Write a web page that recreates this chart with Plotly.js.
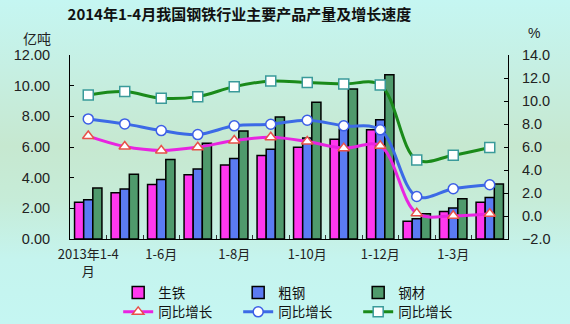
<!DOCTYPE html>
<html>
<head>
<meta charset="utf-8">
<script src="https://cdn.plot.ly/plotly-3.0.1.min.js"></script>
<style>
html,body{margin:0;padding:0;}
body{width:570px;height:324px;background:linear-gradient(to bottom,#c5f6f2 0%,#c6efe2 22%,#c6e8d0 45%,#c6ecd8 62%,#c5f4ee 80%,#c5f6f2 100%);}
#chart{width:570px;height:324px;}
</style>
</head>
<body>
<div id="chart"></div>
<script>
const categories = ["2013年1-4月","1-5月","1-6月","1-7月","1-8月","1-9月","1-10月","1-11月","1-12月","2014年1-2月","1-3月","1-4月"];
const tickLabels = ["2013年1-4<br>月","","1-6月","","1-8月","","1-10月","","1-12月","","1-3月",""];
const pigIron   = [2.39,3.02,3.56,4.19,4.82,5.45,5.99,6.51,7.12,1.15,1.80,2.39];
const crudeSteel= [2.56,3.26,3.88,4.56,5.25,5.86,6.58,7.16,7.77,1.32,2.02,2.71];
const steelProd = [3.32,4.23,5.19,6.25,7.05,7.96,8.92,9.79,10.72,1.65,2.63,3.58];
const pigIronGrowth    = [6.95,6.04,5.70,5.98,6.56,6.85,6.48,5.90,6.10,0.23,0.02,0.20];
const crudeSteelGrowth = [8.44,8.01,7.43,7.08,7.84,7.98,8.33,7.84,7.49,1.70,2.37,2.72];
const steelProdGrowth  = [10.53,10.82,10.24,10.38,11.25,11.74,11.60,11.48,11.40,4.88,5.29,5.96];

const cjk = '"Noto Sans CJK SC", sans-serif';
const barLine = {color:'#000', width:1.5};
const traces = [
  {type:'bar', name:'生铁', x:categories, y:pigIron, marker:{color:'#ff38ee', line:barLine}, legend:'legend'},
  {type:'bar', name:'粗钢', x:categories, y:crudeSteel, marker:{color:'#5b7bf3', line:barLine}, legend:'legend'},
  {type:'bar', name:'钢材', x:categories, y:steelProd, marker:{color:'#4f9a6c', line:barLine}, legend:'legend'},
  {type:'scatter', mode:'lines+markers', name:'同比增长', x:categories, y:pigIronGrowth, yaxis:'y2', legend:'legend2',
   line:{color:'#e824e0', width:3, shape:'spline', smoothing:1},
   marker:{symbol:'triangle-up', size:10, color:'#ffffff', line:{color:'#e8504a', width:1.5}}},
  {type:'scatter', mode:'lines+markers', name:'同比增长', x:categories, y:crudeSteelGrowth, yaxis:'y2', legend:'legend2',
   line:{color:'#3c6ae6', width:3, shape:'spline', smoothing:1},
   marker:{symbol:'circle', size:10, color:'#ffffff', line:{color:'#3c5ee6', width:1.5}}},
  {type:'scatter', mode:'lines+markers', name:'同比增长', x:categories, y:steelProdGrowth, yaxis:'y2', legend:'legend2',
   line:{color:'#1a8a1a', width:3, shape:'spline', smoothing:1},
   marker:{symbol:'square', size:10, color:'#ffffff', line:{color:'#3a9a9a', width:1.5}}}
];

const legendBase = {orientation:'h', xanchor:'left', yanchor:'top', entrywidth:75,
  bgcolor:'rgba(0,0,0,0)', font:{family:cjk, size:13.5, color:'#111'}, tracegroupgap:0, itemwidth:30};

const layout = {
  width:570, height:324,
  paper_bgcolor:'rgba(0,0,0,0)', plot_bgcolor:'rgba(0,0,0,0)',
  margin:{l:70, r:62, t:55, b:85, autoexpand:false},
  barmode:'group', bargap:0.25, bargroupgap:0,
  title:{text:'2014年1-4月我国钢铁行业主要产品产量及增长速度', x:0.42, xanchor:'center', y:0.955, yanchor:'middle',
         font:{family:cjk, size:15, color:'#111', weight:'bold'}},
  xaxis:{type:'category', range:[-0.5, 11.5], autorange:false, tickmode:'array', tickvals:categories, ticktext:tickLabels,
         tickson:'boundaries', ticks:'inside', ticklen:4, tickcolor:'#333',
         showline:true, linecolor:'#000', linewidth:1, showgrid:false, zeroline:false,
         ticklabelstandoff:3,
         tickfont:{family:cjk, size:13, color:'#222'}, tickangle:0},
  yaxis:{range:[0,12], dtick:2, tickformat:'.2f', showline:true, linecolor:'#000', linewidth:1,
         ticks:'inside', ticklen:4, tickcolor:'#000', showgrid:false, zeroline:false,
         ticklabelstandoff:16,
         tickfont:{family:'"Liberation Sans", Arial, sans-serif', size:14.5, color:'#222'}},
  yaxis2:{range:[-2,14], dtick:2, tickformat:'.1f', overlaying:'y', side:'right', showline:true,
         linecolor:'#000', linewidth:1, ticks:'inside', ticklen:4, tickcolor:'#000', showgrid:false, zeroline:false,
         ticklabelstandoff:10,
         tickfont:{family:'"Liberation Sans", Arial, sans-serif', size:14.5, color:'#222'}},
  legend: Object.assign({}, legendBase, {x:0.11, y:-0.208}),
  legend2: Object.assign({}, legendBase, {x:0.11, y:-0.313}),
  annotations:[
    {text:'亿吨', xref:'paper', yref:'paper', x:-0.075, y:1.09, xanchor:'center', yanchor:'middle', showarrow:false,
     font:{family:cjk, size:14, color:'#222'}},
    {text:'%', xref:'paper', yref:'paper', x:1.06, y:1.12, xanchor:'center', yanchor:'middle', showarrow:false,
     font:{family:'"Liberation Sans", Arial, sans-serif', size:14, color:'#222'}}
  ]
};
Plotly.newPlot('chart', traces, layout, {displayModeBar:false, staticPlot:true});
</script>
</body>
</html>
